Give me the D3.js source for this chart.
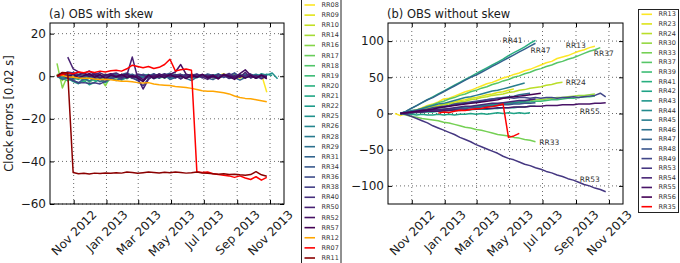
<!DOCTYPE html>
<html>
<head>
<meta charset="utf-8">
<script src="https://cdn.jsdelivr.net/npm/d3@7"></script>
<style>
body { margin: 0; background: #fff; }
text { font-family: "DejaVu Sans", sans-serif; fill: #1a1a1a; }
.tick text { font-size: 12px; }
.title, .ylabel { font-size: 11.5px; }
.leg text { font-size: 6.5px; fill: #333; }
.note { font-size: 7.5px; fill: #333; }
</style>
</head>
<body>
<script>
// sample dates shared by every series (10 day steps)
const days = ["2012-10-01","2012-10-11","2012-10-21","2012-10-31","2012-11-10","2012-11-20","2012-11-30",
  "2012-12-10","2012-12-20","2012-12-30","2013-01-09","2013-01-19","2013-01-29","2013-02-08","2013-02-18",
  "2013-02-28","2013-03-10","2013-03-20","2013-03-30","2013-04-09","2013-04-19","2013-04-29","2013-05-09",
  "2013-05-19","2013-05-29","2013-06-08","2013-06-18","2013-06-28","2013-07-08","2013-07-18","2013-07-28",
  "2013-08-07","2013-08-17","2013-08-27","2013-09-06","2013-09-16","2013-09-26","2013-10-06","2013-10-16",
  "2013-10-26","2013-11-05","2013-11-15"];

// (a) OBS with skew
const leftNames = ["RR08","RR09","RR10","RR14","RR16","RR17","RR18","RR19","RR20","RR21","RR22","RR25","RR26",
  "RR28","RR29","RR31","RR34","RR36","RR38","RR40","RR50","RR52","RR57","RR12","RR07","RR11"];
// index into days where each series begins
const leftStart = [28,0,20,0,0,2,10,0,5,0,15,0,0,18,0,0,0,5,0,0,2,0,0,0,0,0];

const rr08 = [0.5,-0.8,0.3,1.2,-0.5,0.2,-1.0,0.8,0.0,-0.6,1.0,-7.5];
const rr09 = [0.5,-1.2,0.8,-0.3,1.0,-0.6,0.4,-1.0,0.2,0.9,-0.4,0.6,-0.2];
const rr10 = [0.3,-0.5,0.8,-0.2,0.6,-0.9,0.1,0.7,-0.4,0.2,-0.7,0.5,-0.1,0.9,-0.5,0.3,-0.2];
const rr14 = [1.0,-2.0,0.5,-1.2,0.3,-0.8,0.6,-0.5,0.2];
const rr16 = [6.0,-5.5,0.5,-1.5,0.8,-1.0,0.2,-2.0,-0.5,-4.5,0.3,-0.8,0.5,-1.2,0.4];
const rr17 = [-0.5,-1.8,-0.2,-2.5,-1.0,-0.3,-1.5,0.2,-0.8,-1.9,-0.4,0.5,-1.1,-0.2,0.6,-0.7,0.1,-0.5,0.3];
const rr18 = [0.2,-0.6,0.9,-0.3,0.5,-1.0,0.3,0.8,-0.5,0.1,-0.9,0.6,-0.2,0.4,-0.7,0.9,-0.1,0.5,-0.6,0.2,0.7];
const rr19 = [0.0,-1.0,-2.2,-0.8,-1.5,-0.3,-2.8,-1.2,-0.5,-1.8,-0.6,0.4,-1.0,-0.2,0.6,-0.9,0.2,-0.5,0.8,-0.3,
  0.5,-0.8,0.1,0.9,-0.4,0.3,-0.7,0.6,-0.1,0.4,-0.6,0.8,-0.2,0.5,-0.4,1.0,0.2,-0.5,0.7,0.3];
const rr20 = [-1.5,-0.4,-2.0,-0.8,0.3,-1.2,-0.5,0.6,-0.9,0.2,-0.3,0.8,-0.6,0.4,-1.0,0.1,0.7,-0.4,0.5,-0.2,0.3];
const rr21 = [0.5,-0.5,-1.0,-2.5,-3.5,-2.0,-4.0,-2.8,-1.5,-3.0,-1.2,-0.4,-1.8,-0.6,0.2,-1.0,-0.3];
const rr22 = [0.5,-0.3,0.8,-0.6,0.2,1.0,-0.4,0.6,-0.8,0.3,0.9,-0.2,0.5,-0.7,0.4,1.1,-0.3,0.6,-0.5,0.2,0.8,-0.4,
  0.7,0.1,1.0,0.3];
const rr25 = [0.0,1.0,-0.5,0.8,-1.2,0.4,-0.6,1.0,-0.3,0.5,-0.9,0.2,0.7,-0.4,0.3,-1.0,0.6,-0.2,0.9,-0.5,0.4,-0.8,
  0.1,0.6,-0.3,0.8,-0.6,0.2,0.5,-0.4,0.9,-0.1,0.4,-0.7,0.6,0.0,0.8,-0.5,1.2,0.5,1.5,-1.2];
const rr26 = [0.0,-0.8,0.6,-1.5,-0.2,0.9,-0.7,0.3,-1.1,0.5,-0.4,0.8,-0.9,0.2,0.6,-0.5,0.1,-0.8,0.4,-0.2,0.7];
const rr28 = [-0.3,0.6,-0.8,0.2,0.9,-0.5,0.4,-1.0,0.3,0.7,-0.4,0.5,-0.9,0.1,0.8,-0.3,0.6,-0.7,0.2,0.9,-0.1,0.4];
const rr29 = [0.2,0.8,-0.4,1.2,0.3,-0.6,0.9,-0.2,0.5,-1.0,0.3,0.7,-0.5,0.4,1.0,-0.3,0.6,-0.8,0.2,0.9,-0.4,0.5,
  -0.2,0.8,-0.6,0.3,0.7,-0.5,0.1,0.6,-0.3];
const rr31 = [0.0,-1.5,-0.5,-2.0,-3.0,-1.2,-2.2,-0.8,-2.6,-1.5,-0.6,-2.0,-1.0,0.3,-0.9,-1.8,-0.5,0.4,-1.2,-0.3,
  0.5,-1.5,-0.6,0.2,-1.0,-2.0,-0.4,0.6,-0.8,-1.6,-0.2,0.5,-1.1,-0.4,-1.8,-0.6,0.3,-1.0,-0.2,-0.8];
const rr34 = [0.5,1.5,0.2,1.8,0.6,-0.5,1.2,0.4,-0.3,1.0,0.2,-0.6,0.8,1.5,0.3,-0.4,0.9,0.1,1.2,-0.2,0.6,1.4,0.0,
  0.7,-0.5,0.9,0.3,-0.2,1.1,0.4,-0.6,0.8,0.2,1.6,-0.3,0.5,1.0,-0.4,0.6,0.2];
const rr36 = [-0.5,0.6,-1.2,0.3,-0.8,0.9,-0.4,0.2,-1.0,0.7,-0.3,-2.5,0.4,-0.6,1.0,-0.2,0.5,-0.9,0.3,0.8,-0.5,
  0.2,-0.7,0.6,-0.1,0.9,-0.6,0.4,1.3,-0.3,0.5,-0.8,0.2,-1.0,0.4];
const rr38 = [0.0,0.5,-1.0,-2.0,-3.2,-3.0,-3.4,-3.1,-3.6,-2.4,-1.0,-0.2,-1.4,0.3,-0.8,-2.0,-4.5,-1.0,0.2,-0.6,
  0.8,-0.4,0.3,-1.2,0.5,-0.3,0.9,-0.7,0.2,-0.5,1.0,-0.2,0.6,-0.9,0.4,-0.4,0.7,-0.6,0.2,-0.3];
const rr40 = [0.0,1.0,2.0,1.5,0.8,1.6,0.4,1.2,0.6,-0.4,0.9,1.5,0.2,0.7,-0.3,1.0,0.5,-0.5,0.8,0.3,1.2,-0.2,0.6,
  0.9,-0.6,0.4,1.1,-0.1,0.5,-0.8,0.7,0.2,1.3,-0.4,0.6,0.0,0.9,-0.5,0.4,-0.2];
const rr50 = [9.0,3.5,2.0,1.2,2.5,0.8,1.6,0.4,1.0,0.2,-0.5,0.6,9.0,-0.8,-6.0,-1.5,0.4,-0.8,0.9,-0.3,0.5,-1.2,
  0.3,-0.6,0.8,-0.4,-1.5,0.2,-0.9,0.6,-1.0,0.3,-0.5,1.8,-0.7,0.4,-1.2,0.2];
const rr52 = [0.0,1.2,0.4,-0.8,0.6,1.5,-0.2,0.8,-1.0,0.5,1.2,-0.4,0.3,1.0,-0.6,0.2,-1.6,0.7,-0.3,1.1,0.2,0.8,
  2.0,5.5,1.0,0.4,-0.5,0.9,-0.2,0.6,-0.8,1.0,0.3,-0.6,1.2,3.0,0.5,-0.7,0.4,-0.5];
const rr57 = [0.0,0.6,-0.4,1.0,-0.8,0.3,1.2,-0.5,0.8,-1.2,0.4,-0.3,0.9,-0.6,0.2,-0.9,-2.5,0.5,-1.0,0.3,-0.7,
  0.8,-0.4,0.2,-1.1,0.6,-0.5,0.9,-0.8,0.1,-1.3,0.7,-0.2,-1.5,0.4,-0.9,0.3,-1.0,0.6,-1.2];
const rr12 = [0.5,0.3,-0.2,-0.5,-0.8,-1.0,-1.0,-1.3,-1.5,-1.4,-1.7,-2.0,-2.3,-2.4,-2.6,-3.0,-3.2,-3.0,-3.6,-4.0,
  -4.2,-4.4,-4.8,-5.0,-5.3,-5.7,-6.2,-6.8,-7.0,-7.0,-7.4,-7.8,-8.3,-9.3,-10.0,-10.4,-10.6,-11.0,-11.5,-12.0];
const rr07 = [0.0,0.8,1.5,1.2,2.0,1.6,2.2,1.8,2.4,2.0,2.6,2.8,2.4,3.5,5.2,4.6,4.0,4.6,3.6,4.2,5.5,8.0,2.5,3.0,
  3.4,2.8,-44.8,-45.2,-45.0,-45.8,-46.2,-46.5,-46.8,-47.5,-46.8,-47.8,-48.5,-47.2,-48.8,-47.5];
const rr11 = [0.0,1.8,1.5,-45.2,-45.8,-45.6,-45.9,-45.5,-45.7,-45.4,-45.6,-45.3,-45.5,-45.0,-45.2,-45.6,-45.3,
  -45.0,-45.2,-45.4,-45.1,-45.3,-45.0,-45.2,-45.5,-45.3,-45.0,-45.4,-45.6,-45.8,-46.0,-45.8,-46.2,-46.0,-46.3,
  -46.5,-46.2,-44.8,-46.3,-47.0];

// (b) OBS without skew
const rightNames = ["RR13","RR23","RR24","RR30","RR33","RR37","RR39","RR41","RR42","RR43","RR44","RR45","RR46",
  "RR47","RR48","RR49","RR53","RR54","RR55","RR56","RR35"];
const rightStart = [0,1,1,1,1,1,1,1,1,1,1,1,1,1,1,1,1,1,1,1,8];

const rr13 = [0,-3,0,3,5,8,11,13,16,20,21,24,27,30,32,35,38,41,43,46,49,51,54,56,59,61,64,67,70,72,76,78,80,83,
  86,88,91,93];
const rr23 = [0,1,3,5,6,8,10,11,13,14,16,18,19,21,22,24,26,27,29,30,32,34];
const rr24 = [0,2,3,4,6,7,9,10,12,13,14,16,17,19,20,22,23,25,26,27,29,30,32,33,35,36,37,39,40,42,43];
const rr30 = [0,0,1,2,3,3,4,5,6,6,7,8,9,9,10,11,12,12,13,14,15,16,16,17,18,19,19,20,21,22,22,23,24,25,25,26,27];
const rr33 = [0,-2,-4,-5,-7,-8,-9,-10,-12,-13,-15,-17,-19,-20,-22,-23,-25,-27,-29,-30,-31,-33,-34,-36,-37,-39];
const rr37 = [0,1,3,5,7,10,12,15,17,20,22,25,27,30,32,35,37,40,42,45,47,50,52,55,57,60,62,65,67,70,72,75,77,80,
  83,86,88,91];
const rr39 = [0,1,1,2,3,3,4,5,5,6,7,7,8,9,9,10,11,11,12,13,13,14,15,15,16,17,17,18,19,19,20,21,21,22,23,23,24];
const rr41 = [0,3,7,11,15,19,23,27,31,35,39,43,47,51,55,59,63,67,71,75,80,84,88,92,97,101];
const rr42 = [0,-1,-1,-2,-1,-2,-2,-1,-2,-1,-2,-1,-1,0,-1,0,-1,0,1,0,1,0,1,0,1];
const rr43 = [0,0,1,1,2,2,2,3,3,4,4,4,5,5,6,6,6,7,7,8,8,8,9,9,10,10];
const rr44 = [0,1,1,2,3,4,4,5,6,6,7,8,9,9,10,11,11,12,13,14,14,15,16,17,18];
const rr45 = [0,2,4,5,7,9,11,13,14,16,18,20,22,23,25,27,29,31,32,34,36,38,40,42];
const rr46 = [0,1,2,3,5,6,7,8,9,10,12,13,14,15,16,17,19,20,21,22,23,24,26,27,28];
const rr47 = [0,3,7,11,15,19,22,26,30,34,38,42,46,50,53,57,61,65,69,73,77,81,85,89,93,97];
const rr48 = [0,0,1,2,2,3,4,4,5,5,6,7,7,8,8,9,10,10,11,12,12,13,13,14,14,15];
const rr49 = [0,1,2,4,5,6,8,9,10,11,13,14,15,16,17,18,19,20,21,21,22,21,22,22,21,22,21,22,22,21,22,22,23,22,
  23,24,25,28,23];
const rr53 = [0,-1,-4,-7,-10,-13,-17,-20,-23,-26,-29,-33,-36,-39,-43,-46,-49,-52,-55,-59,-62,-64,-67,-70,-72,
  -75,-77,-80,-82,-85,-87,-90,-92,-95,-98,-100,-103,-105,-108];
const rr54 = [0,1,2,2,3,4,5,6,6,7,8,9,10,10,11,12,13,14,14,15,16,17,18,18,19,20];
const rr55 = [0,1,1,2,2,3,3,3,4,4,5,5,5,6,6,7,7,7,8,8,8,9,9,9,10,10,10,11,11,11,12,12,12,13,13,13,14,14,15];
const rr56 = [0,1,2,3,4,5,6,8,9,10,11,12,13,14,15,16,17,18,19,21,22,23,24,25,26,27,28];
const rr35 = [0.5,2,1.5,3,4.5,4,5.5,6.5,7,8.5,9.5,11,13,-33,-31,-27.5];

// station labels written inside panel (b): name, date, value
const noteNames = ["RR41","RR47","RR13","RR37","RR24","RR55","RR33","RR53"];
const noteDates = ["2013-04-18","2013-06-09","2013-08-13","2013-10-04","2013-08-13","2013-09-08","2013-06-25","2013-09-08"];
const noteValues = [97,84,91,80,40,0,-43.5,-95];

const leftSeries = [rr08,rr09,rr10,rr14,rr16,rr17,rr18,rr19,rr20,rr21,rr22,rr25,rr26,rr28,rr29,rr31,rr34,rr36,
  rr38,rr40,rr50,rr52,rr57,rr12,rr07,rr11];
const rightSeries = [rr13,rr23,rr24,rr30,rr33,rr37,rr39,rr41,rr42,rr43,rr44,rr45,rr46,rr47,rr48,rr49,rr53,rr54,
  rr55,rr56,rr35];

const leftColors = leftNames.slice(0, 23).map((d, i) => d3.interpolateViridis(1 - i / 22))
  .concat(["#ffa500", "#ff0000", "#8b0000"]);
const rightColors = rightNames.slice(0, 20).map((d, i) => d3.interpolateViridis(1 - i / 19))
  .concat(["#ff0000"]);

const parse = d3.timeParse("%Y-%m-%d");
const dates = days.map(parse);
const timeDomain = [parse("2012-09-18"), parse("2013-11-27")];

const svg = d3.select("body").append("svg")
  .attr("width", 680)
  .attr("height", 263);

function drawPanel(p) {
  const x = d3.scaleTime().domain(timeDomain).range([p.left, p.right]);
  const y = d3.scaleLinear().domain(p.yDomain).range([p.bottom, p.top]);
  const g = svg.append("g");
  const months = x.ticks(d3.timeMonth.every(2));

  // dotted grid
  g.selectAll(".vgrid")
    .data(months)
    .enter()
    .append("line")
    .attr("x1", d => x(d)).attr("x2", d => x(d))
    .attr("y1", p.top).attr("y2", p.bottom)
    .attr("stroke", "#444").attr("stroke-width", 0.8).attr("stroke-dasharray", "1,3");
  g.selectAll(".hgrid")
    .data(p.yTicks)
    .enter()
    .append("line")
    .attr("x1", p.left).attr("x2", p.right)
    .attr("y1", d => y(d)).attr("y2", d => y(d))
    .attr("stroke", "#444").attr("stroke-width", 0.8).attr("stroke-dasharray", "1,3");

  const line = d3.line()
    .defined(d => d.v != null)
    .x(d => x(d.date))
    .y(d => y(d.v));

  p.series.forEach((vals, k) => {
    const pts = vals.map((v, i) => ({ date: dates[p.start[k] + i], v: v }));
    g.append("path")
      .datum(pts)
      .attr("d", line)
      .attr("fill", "none")
      .attr("stroke", p.colors[k])
      .attr("stroke-width", 1.5)
      .attr("stroke-linejoin", "round");
  });

  // axes with inward ticks
  const xb = g.append("g")
    .attr("transform", `translate(0,${p.bottom})`)
    .call(d3.axisBottom(x).tickValues(months).tickSize(-4).tickFormat(d3.timeFormat("%b %Y")));
  xb.selectAll("text")
    .attr("y", 0)
    .attr("dy", null)
    .attr("text-anchor", "middle")
    .attr("dominant-baseline", "central")
    .attr("transform", function () {
      const w = this.getComputedTextLength();
      return `translate(0,${5 + (w + 10) / (2 * Math.SQRT2)}) rotate(-45)`;
    });
  g.append("g")
    .attr("transform", `translate(0,${p.top})`)
    .call(d3.axisTop(x).tickValues(months).tickSize(-4).tickFormat(""));
  g.append("g")
    .attr("transform", `translate(${p.left},0)`)
    .call(d3.axisLeft(y).tickValues(p.yTicks).tickSize(-4).tickPadding(4));
  g.append("g")
    .attr("transform", `translate(${p.right},0)`)
    .call(d3.axisRight(y).tickValues(p.yTicks).tickSize(-4).tickFormat(""));
  g.selectAll(".domain").remove();

  g.append("rect")
    .attr("x", p.left).attr("y", p.top)
    .attr("width", p.right - p.left).attr("height", p.bottom - p.top)
    .attr("fill", "none").attr("stroke", "#000").attr("stroke-width", 1);

  g.append("text")
    .attr("class", "title")
    .attr("x", p.left - 1)
    .attr("y", 18)
    .text(p.title);

  return { x: x, y: y };
}

const left = drawPanel({
  left: 50, right: 284, top: 23, bottom: 204,
  yDomain: [-60, 25], yTicks: [-60, -40, -20, 0, 20],
  series: leftSeries, start: leftStart, colors: leftColors,
  title: "(a) OBS with skew"
});

const right = drawPanel({
  left: 388, right: 623, top: 23, bottom: 204,
  yDomain: [-125, 125], yTicks: [-100, -50, 0, 50, 100],
  series: rightSeries, start: rightStart, colors: rightColors,
  title: "(b) OBS without skew"
});

svg.append("text")
  .attr("class", "ylabel")
  .attr("transform", "translate(13,113.5) rotate(-90)")
  .attr("text-anchor", "middle")
  .text("Clock errors [0.02 s]");

// labels inside panel (b)
svg.selectAll(".note")
  .data(noteNames)
  .enter()
  .append("text")
  .attr("class", "note")
  .attr("x", (d, i) => right.x(parse(noteDates[i])))
  .attr("y", (d, i) => right.y(noteValues[i]))
  .text(d => d);

function drawLegend(names, colors, box, y0, step) {
  const legend = svg.append("g").attr("class", "leg");
  legend.append("rect")
    .attr("x", box[0]).attr("y", box[1])
    .attr("width", box[2]).attr("height", box[3])
    .attr("fill", "#fff").attr("stroke", "#222").attr("stroke-width", 1);
  const item = legend.selectAll(".legend-item")
    .data(names)
    .enter()
    .append("g")
    .attr("transform", (d, i) => `translate(${box[0]}, ${y0 + i * step})`);
  item.append("line")
    .attr("x1", 3).attr("x2", 13.5)
    .attr("stroke", (d, i) => colors[i])
    .attr("stroke-width", 1.6);
  item.append("text")
    .attr("x", 20)
    .attr("dominant-baseline", "central")
    .text(d => d);
}

drawLegend(leftNames, leftColors, [301.5, -1, 39.5, 268], 5, 10.12);
drawLegend(rightNames, rightColors, [638.5, 9.5, 40, 203], 14.3, 9.62);
</script>
</body>
</html>
